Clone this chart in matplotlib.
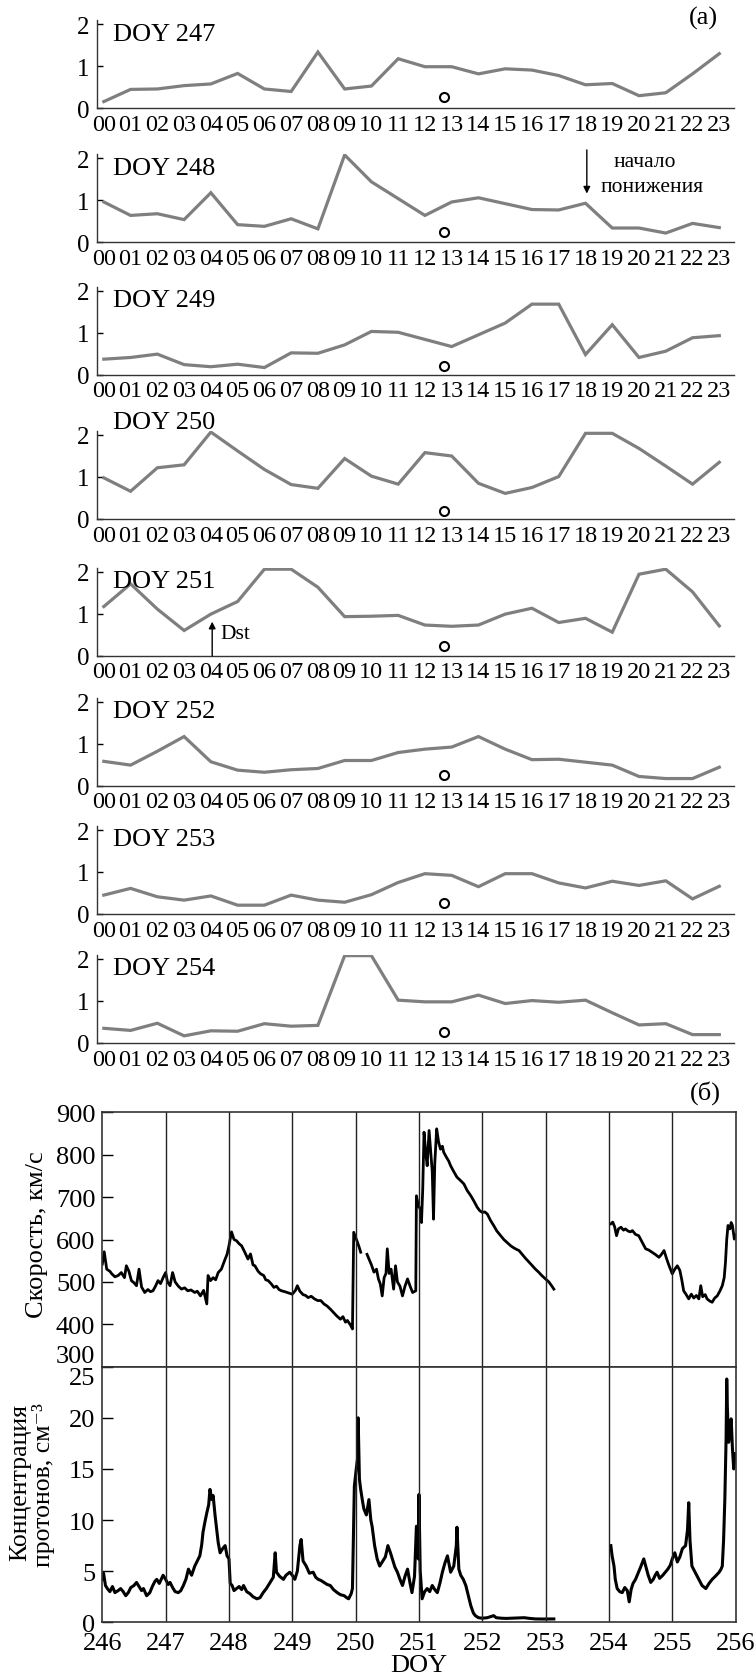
import numpy as np
import matplotlib.pyplot as plt

plt.rcParams['font.family'] = ['Liberation Serif', 'DejaVu Serif']

# hourly index per day (a)
hours = list(range(24))
hour_labels = ['%02d' % h for h in hours]
days = [247, 248, 249, 250, 251, 252, 253, 254]
doy247 = [0.16, 0.45, 0.46, 0.54, 0.58, 0.83, 0.46, 0.40, 1.34, 0.46, 0.53, 1.18,
          0.99, 0.99, 0.82, 0.94, 0.91, 0.78, 0.56, 0.59, 0.30, 0.37, 0.82, 1.30]
doy248 = [0.96, 0.64, 0.68, 0.54, 1.18, 0.42, 0.38, 0.56, 0.32, 2.08, 1.44, 1.04,
          0.64, 0.96, 1.06, 0.92, 0.78, 0.77, 0.93, 0.34, 0.34, 0.22, 0.45, 0.35]
doy249 = [0.37, 0.41, 0.49, 0.24, 0.19, 0.25, 0.17, 0.52, 0.51, 0.71, 1.03, 1.01,
          0.84, 0.67, 0.95, 1.23, 1.68, 1.68, 0.48, 1.19, 0.41, 0.56, 0.88, 0.93]
doy250 = [0.98, 0.66, 1.22, 1.29, 2.07, 1.62, 1.18, 0.82, 0.73, 1.44, 1.02, 0.83,
          1.58, 1.50, 0.85, 0.61, 0.75, 1.01, 2.04, 2.04, 1.68, 1.26, 0.83, 1.35]
doy251 = [1.17, 1.71, 1.11, 0.60, 0.99, 1.29, 2.06, 2.06, 1.63, 0.93, 0.94, 0.96,
          0.73, 0.70, 0.73, 0.99, 1.13, 0.79, 0.89, 0.56, 1.94, 2.06, 1.52, 0.71]
doy252 = [0.58, 0.49, 0.82, 1.17, 0.57, 0.37, 0.32, 0.38, 0.41, 0.60, 0.60, 0.79,
          0.87, 0.92, 1.17, 0.87, 0.62, 0.63, 0.56, 0.49, 0.22, 0.17, 0.17, 0.44]
doy253 = [0.45, 0.61, 0.41, 0.33, 0.43, 0.21, 0.21, 0.45, 0.33, 0.28, 0.46, 0.75,
          0.96, 0.92, 0.65, 0.96, 0.96, 0.74, 0.62, 0.78, 0.68, 0.79, 0.36, 0.66]
doy254 = [0.35, 0.30, 0.47, 0.17, 0.29, 0.28, 0.46, 0.40, 0.42, 2.08, 2.08, 1.02,
          0.98, 0.98, 1.14, 0.94, 1.01, 0.97, 1.02, 0.72, 0.43, 0.46, 0.20, 0.20]
day_series = [doy247, doy248, doy249, doy250, doy251, doy252, doy253, doy254]
marker_hour = 12.7
marker_value = [0.26, 0.24, 0.21, 0.20, 0.24, 0.25, 0.26, 0.27]

# solar wind (б)
speed_doy = [246.00, 246.03, 246.07, 246.12, 246.15, 246.20, 246.25, 246.30, 246.35, 246.38,
             246.42, 246.46, 246.50, 246.54, 246.58, 246.62, 246.67, 246.72, 246.76, 246.80,
             246.84, 246.88, 246.92, 246.96, 247.00, 247.03, 247.07, 247.11, 247.15, 247.20,
             247.25, 247.30, 247.35, 247.40, 247.46, 247.50, 247.55, 247.60, 247.65, 247.67,
             247.71, 247.75, 247.79, 247.83, 247.88, 247.94, 247.97, 248.00, 248.04, 248.08,
             248.12, 248.16, 248.20, 248.25, 248.30, 248.34, 248.38, 248.41, 248.46, 248.50,
             248.55, 248.58, 248.62, 248.67, 248.71, 248.75, 248.79, 248.83, 248.88, 248.94,
             249.00, 249.05, 249.08, 249.12, 249.17, 249.21, 249.25, 249.30, 249.35, 249.40,
             249.45, 249.50, 249.55, 249.60, 249.65, 249.70, 249.76, 249.80, 249.84, 249.87,
             249.92, 249.95, 249.97, 250.00, 250.03, 250.06, 250.08, 250.13, 250.18, 250.21,
             250.25, 250.29, 250.33, 250.36, 250.39, 250.42, 250.45, 250.48, 250.50, 250.53,
             250.56, 250.60, 250.63, 250.66, 250.70, 250.74, 250.78, 250.82, 250.86, 250.90,
             250.95, 250.96, 250.99, 251.02, 251.04, 251.06, 251.08, 251.11, 251.13, 251.16,
             251.19, 251.21, 251.23, 251.25, 251.28, 251.31, 251.34, 251.37, 251.39, 251.43,
             251.47, 251.50, 251.55, 251.60, 251.65, 251.71, 251.76, 251.82, 251.87, 251.92,
             251.96, 252.00, 252.04, 252.08, 252.13, 252.18, 252.23, 252.29, 252.34, 252.40,
             252.45, 252.50, 252.55, 252.58, 252.63, 252.68, 252.73, 252.79, 252.84, 252.89,
             252.94, 253.00, 253.05, 253.09, 253.13, 253.50, 254.03, 254.06, 254.09, 254.12,
             254.15, 254.19, 254.23, 254.26, 254.30, 254.34, 254.37, 254.42, 254.47, 254.52,
             254.58, 254.63, 254.68, 254.73, 254.79, 254.83, 254.87, 254.91, 254.95, 255.00,
             255.04, 255.08, 255.12, 255.15, 255.18, 255.22, 255.26, 255.30, 255.34, 255.38,
             255.42, 255.45, 255.48, 255.52, 255.55, 255.59, 255.63, 255.67, 255.71, 255.75,
             255.79, 255.82, 255.84, 255.86, 255.88, 255.91, 255.93, 255.95, 255.98, 256.00]
speed_kms = [542, 571, 530, 525, 519, 512, 515, 522, 510, 538,
             525, 503, 498, 491, 530, 488, 475, 482, 477, 479,
             490, 503, 496, 510, 522, 500, 491, 522, 500, 490,
             483, 486, 479, 481, 475, 478, 467, 480, 448, 515,
             503, 510, 505, 522, 530, 554, 565, 585, 618, 600,
             597, 590, 585, 570, 554, 566, 540, 538, 525, 519,
             515, 505, 503, 495, 487, 490, 482, 479, 477, 474,
             471, 480, 491, 478, 470, 468, 463, 466, 460, 456,
             456, 448, 443, 436, 428, 420, 412, 418, 405, 409,
             398, 389, 617, 605, 593, 580, 570, np.nan, 565, 554,
             540, 523, 530, 507, 495, 467, 510, 520, 578, 520,
             530, 483, 538, 500, 490, 467, 490, 507, 490, 475,
             479, 703, 680, 672, 640, 720, 853, 800, 774, 857,
             800, 760, 648, 780, 861, 830, 813, 820, 806, 795,
             785, 774, 760, 747, 740, 731, 716, 703, 690, 676,
             668, 664, 665, 660, 645, 633, 620, 609, 600, 592,
             585, 580, 576, 574, 565, 556, 548, 538, 530, 523,
             515, 507, 500, 492, 483, np.nan, 637, 641, 630, 609,
             625, 629, 622, 625, 620, 618, 621, 612, 609, 595,
             578, 575, 570, 565, 558, 565, 574, 555, 538, 519,
             530, 538, 527, 505, 479, 470, 460, 471, 462, 468,
             460, 491, 465, 470, 460, 455, 452, 462, 467, 478,
             491, 510, 546, 600, 633, 625, 640, 633, 601, 610]

dens_doy = [246.00, 246.02, 246.05, 246.08, 246.12, 246.16, 246.20, 246.25, 246.29, 246.33,
            246.37, 246.41, 246.45, 246.50, 246.54, 246.58, 246.62, 246.65, 246.70, 246.75,
            246.79, 246.83, 246.86, 246.90, 246.96, 247.00, 247.04, 247.07, 247.11, 247.15,
            247.20, 247.24, 247.28, 247.32, 247.36, 247.41, 247.46, 247.50, 247.54, 247.57,
            247.59, 247.62, 247.65, 247.68, 247.70, 247.73, 247.75, 247.78, 247.80, 247.83,
            247.86, 247.90, 247.94, 247.97, 248.00, 248.02, 248.05, 248.08, 248.12, 248.16,
            248.20, 248.23, 248.28, 248.33, 248.38, 248.44, 248.49, 248.54, 248.59, 248.65,
            248.70, 248.73, 248.75, 248.80, 248.86, 248.90, 248.96, 249.00, 249.04, 249.08,
            249.12, 249.14, 249.17, 249.22, 249.27, 249.33, 249.37, 249.41, 249.45, 249.50,
            249.55, 249.60, 249.65, 249.71, 249.76, 249.82, 249.86, 249.89, 249.93, 249.95,
            249.98, 250.01, 250.03, 250.04, 250.06, 250.08, 250.11, 250.13, 250.17, 250.21,
            250.24, 250.26, 250.30, 250.34, 250.38, 250.42, 250.47, 250.51, 250.55, 250.58,
            250.62, 250.66, 250.70, 250.74, 250.78, 250.82, 250.86, 250.89, 250.93, 250.96,
            250.99, 251.00, 251.02, 251.05, 251.09, 251.13, 251.17, 251.21, 251.25, 251.29,
            251.33, 251.37, 251.41, 251.45, 251.50, 251.55, 251.59, 251.60, 251.63, 251.66,
            251.70, 251.74, 251.78, 251.82, 251.86, 251.89, 251.94, 252.00, 252.08, 252.13,
            252.18, 252.22, 252.30, 252.38, 252.45, 252.55, 252.66, 252.75, 252.84, 252.95,
            253.05, 253.13, 253.50, 254.03, 254.05, 254.08, 254.10, 254.13, 254.17, 254.21,
            254.25, 254.29, 254.32, 254.35, 254.38, 254.42, 254.46, 254.50, 254.55, 254.58,
            254.62, 254.66, 254.70, 254.73, 254.76, 254.80, 254.85, 254.89, 254.93, 254.97,
            255.00, 255.04, 255.08, 255.12, 255.16, 255.21, 255.24, 255.26, 255.28, 255.31,
            255.36, 255.42, 255.47, 255.53, 255.58, 255.63, 255.68, 255.74, 255.77, 255.79,
            255.81, 255.83, 255.85, 255.86, 255.87, 255.89, 255.91, 255.93, 255.95, 255.97,
            255.99]
dens_cm3 = [4.2, 4.8, 3.6, 3.3, 3.0, 3.5, 2.9, 3.1, 3.3, 3.0,
            2.6, 2.9, 3.4, 3.6, 3.9, 3.5, 3.1, 3.3, 2.6, 2.9,
            3.5, 4.0, 4.2, 3.8, 4.6, 4.2, 3.7, 3.9, 3.4, 3.0,
            2.9, 3.1, 3.6, 4.2, 5.2, 4.6, 5.5, 6.0, 6.5, 7.6,
            8.8, 9.8, 10.7, 11.5, 13.0, 12.0, 12.4, 10.5, 9.4, 7.8,
            6.8, 7.2, 7.5, 6.5, 6.2, 3.8, 3.6, 3.1, 3.3, 3.5,
            3.2, 3.6, 3.0, 2.8, 2.5, 2.3, 2.4, 2.9, 3.3, 3.9,
            4.4, 6.8, 4.9, 4.5, 4.2, 4.6, 4.9, 4.6, 4.2, 5.0,
            7.5, 8.1, 6.0, 5.5, 4.8, 4.9, 4.4, 4.2, 4.1, 3.9,
            3.7, 3.6, 3.2, 2.9, 2.7, 2.6, 2.4, 2.3, 2.8, 3.3,
            13.3, 15.0, 16.0, 20.0, 14.0, 13.0, 11.8, 11.1, 10.5, 12.0,
            10.0, 9.4, 7.5, 6.2, 5.5, 5.9, 6.4, 7.5, 6.8, 6.2,
            5.4, 4.9, 4.2, 3.6, 4.5, 5.2, 3.8, 2.9, 4.5, 9.4,
            6.2, 12.5, 5.0, 2.3, 3.0, 3.3, 3.0, 3.6, 3.2, 2.9,
            3.8, 4.9, 5.8, 6.5, 4.9, 5.5, 7.5, 9.3, 5.2, 4.6,
            4.2, 3.6, 2.6, 1.6, 0.9, 0.65, 0.45, 0.4, 0.45, 0.55,
            0.65, 0.45, 0.4, 0.38, 0.4, 0.42, 0.45, 0.38, 0.33, 0.32,
            0.33, 0.33, np.nan, 7.5, 6.5, 5.5, 4.2, 3.3, 3.0, 2.9,
            3.4, 3.1, 2.0, 3.2, 3.8, 4.2, 4.8, 5.4, 6.2, 5.5,
            4.6, 3.9, 4.2, 4.6, 4.9, 4.3, 4.6, 4.9, 5.2, 5.6,
            6.2, 6.8, 5.9, 6.4, 7.2, 7.5, 9.0, 11.7, 8.0, 5.5,
            4.9, 4.2, 3.6, 3.3, 3.8, 4.2, 4.5, 4.9, 5.2, 5.5,
            8.0, 12.0, 18.0, 23.8, 21.0, 17.6, 19.0, 19.9, 17.0, 15.0,
            16.5]

W, H = 756, 1681
fig = plt.figure(figsize=(W / 100, H / 100), dpi=100)

# axis zero lines (pixels from top) of the eight daily panels
zero_px = [109.3, 243.3, 375.7, 520.0, 656.7, 786.7, 915.0, 1044.0]
unit_px = 42.0
left_px, right_px = 96.6, 734.0
ytop = 2.1

for i, (day, vals) in enumerate(zip(days, day_series)):
    h_px = ytop * unit_px
    ax = fig.add_axes([left_px / W, 1 - zero_px[i] / H, (right_px - left_px) / W, h_px / H])
    ax.plot(hours, vals, color='#7f7f7f', lw=2.3, solid_joinstyle='miter')
    ax.plot([marker_hour], [marker_value[i]], 'o', ms=6.5, mfc='white', mec='black', mew=1.5)
    ax.set_xlim(-0.27, 23.55)
    ax.set_ylim(0, ytop)
    ax.set_xticks(hours)
    ax.set_xticklabels(hour_labels)
    ax.set_yticks([0, 1, 2])
    ax.tick_params(axis='x', length=0, pad=4, labelsize=17.5)
    ax.tick_params(axis='y', direction='in', length=4, width=1, pad=5, labelsize=18)
    for s in ['top', 'right']:
        ax.spines[s].set_visible(False)
    for s in ['left', 'bottom']:
        ax.spines[s].set_color('#333333')
        ax.spines[s].set_linewidth(1.0)
    ty = 2.32 if day == 250 else 1.78
    ax.text(0.36, ty, 'DOY %d' % day, fontsize=19, va='center', ha='left', clip_on=False)
    if day == 248:
        ax.annotate('', xy=(18.05, 1.16), xytext=(18.05, 2.2),
                    arrowprops=dict(arrowstyle='-|>', color='black', lw=1.0,
                                    mutation_scale=10, shrinkA=0, shrinkB=0),
                    annotation_clip=False)
        ax.text(20.2, 1.92, 'начало', fontsize=15.5, ha='center', va='center')
        ax.text(20.5, 1.32, 'понижения', fontsize=15.5, ha='center', va='center')
    if day == 251:
        ax.annotate('', xy=(4.05, 0.81), xytext=(4.05, 0.0),
                    arrowprops=dict(arrowstyle='-|>', color='black', lw=1.0,
                                    mutation_scale=10, shrinkA=0, shrinkB=0))
        ax.text(4.37, 0.53, 'Dst', fontsize=15.5, ha='left', va='center')

fig.text(703 / W, 1 - 18 / H, '(а)', fontsize=19, ha='center', va='center')
fig.text(705 / W, 1 - 1093 / H, '(б)', fontsize=19, ha='center', va='center')

# lower block: speed and density
bl, br = 102.3, 735.6
ax_v = fig.add_axes([bl / W, 1 - 1367.7 / H, (br - bl) / W, (1367.7 - 1113.3) / H])
ax_n = fig.add_axes([bl / W, 1 - 1623.3 / H, (br - bl) / W, (1623.3 - 1367.7) / H])

ax_v.plot(speed_doy, speed_kms, color='black', lw=2.0)
ax_n.plot(dens_doy, dens_cm3, color='black', lw=2.2)

ax_v.set_ylim(300, 900)
ax_v.set_yticks([300, 400, 500, 600, 700, 800, 900])
ax_n.set_ylim(0, 25)
ax_n.set_yticks([0, 5, 10, 15, 20, 25])

for ax in (ax_v, ax_n):
    ax.set_xlim(246, 256)
    ax.set_xticks(range(246, 257))
    for d in range(247, 256):
        ax.axvline(d, color='#222222', lw=1.0)
    ax.tick_params(axis='y', direction='in', length=8, width=1, pad=5, labelsize=19)
    ax.tick_params(axis='x', length=0, pad=7, labelsize=19)
    for s in ax.spines.values():
        s.set_color('#333333')
        s.set_linewidth(1.2)

ax_v.tick_params(axis='x', labelbottom=False)
ax_n.set_xticklabels([str(d) for d in range(246, 257)])
ax_n.set_xlabel('DOY', fontsize=19, labelpad=0)

ax_v.yaxis.get_major_ticks()[0].label1.set_va('bottom')
ax_n.yaxis.get_major_ticks()[-1].label1.set_va('top')

fig.text(37 / W, 1 - 1235 / H, 'Скорость, км/с', fontsize=19, rotation=90,
         ha='center', va='center')
fig.text(20 / W, 1 - 1483 / H, 'Концентрация', fontsize=18.5, rotation=90,
         ha='center', va='center')
fig.text(44 / W, 1 - 1485 / H, 'протонов, см⁻³', fontsize=18.5, rotation=90,
         ha='center', va='center')

fig.savefig('out.png', dpi=100)
